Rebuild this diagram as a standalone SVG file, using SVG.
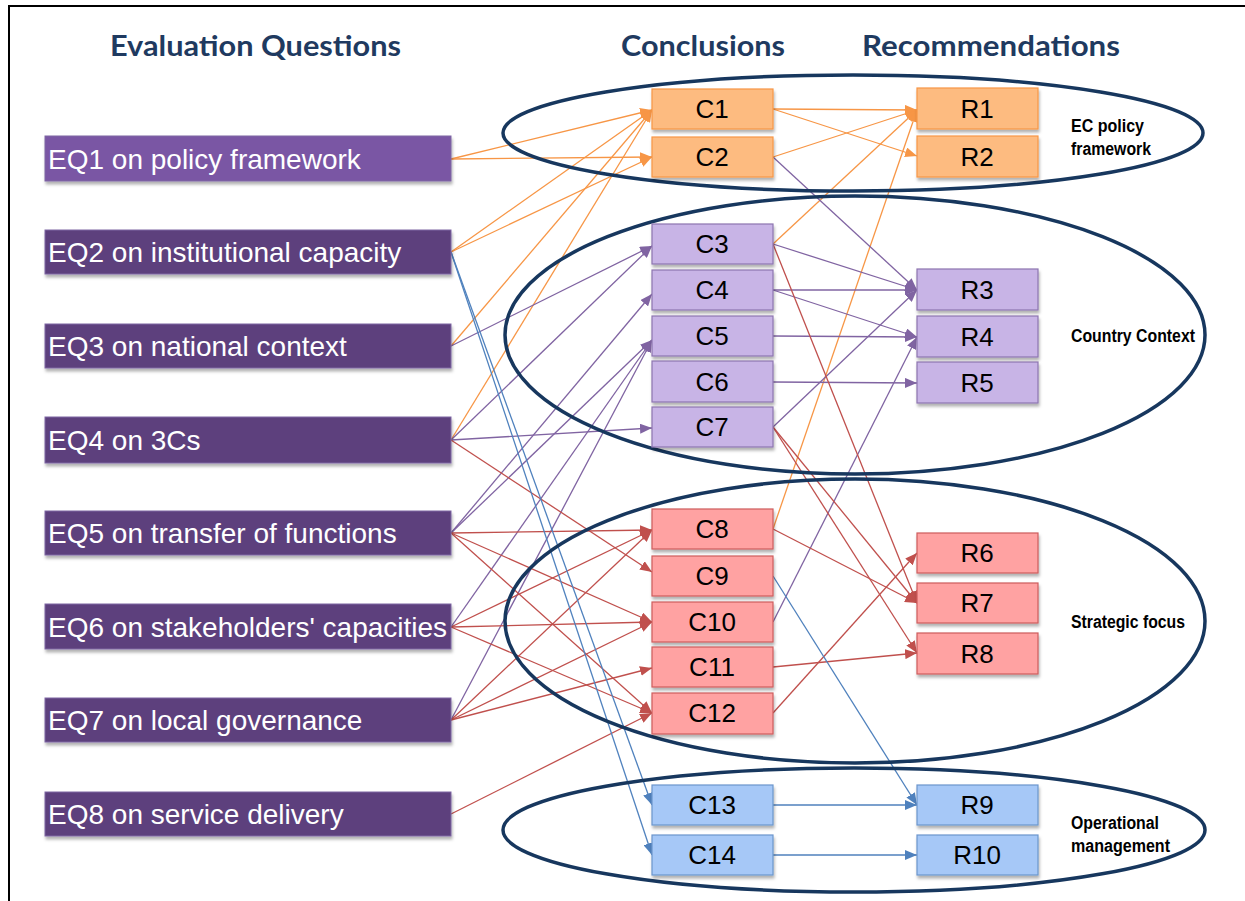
<svg xmlns="http://www.w3.org/2000/svg" width="1245" height="901" viewBox="0 0 1245 901">
<style>
.hdr{font-family:Lato,"Liberation Sans",sans-serif;font-weight:bold;font-size:29px;fill:#1F3A60}
.eq rect{stroke:#7F66A3;stroke-width:1}
.eq text{font-family:"Liberation Sans",Arial,sans-serif;font-size:28px;fill:#fff}
.bx text{font-family:"Liberation Sans",Arial,sans-serif;font-size:26px;fill:#000;text-anchor:middle}
.o rect{fill:#FDBB80;stroke:#F79646;stroke-width:1.2}
.p rect{fill:#C8B4E6;stroke:#8D75B0;stroke-width:1.2}
.r rect{fill:#FFA2A2;stroke:#CD5C5C;stroke-width:1.2}
.b rect{fill:#A6C8F7;stroke:#6C96CC;stroke-width:1.2}
.grp{fill:none;stroke:#17375E;stroke-width:3.5}
.lbl{font-family:"Liberation Sans Narrow","Liberation Sans",Arial,sans-serif;font-weight:bold;font-size:18px;fill:#000}
#connectors line{stroke-width:1.3;fill:none}
.lo{stroke:#F79646;marker-end:url(#ao)}
.lp{stroke:#8064A2;marker-end:url(#ap)}
.lr{stroke:#C0504D;marker-end:url(#ar)}
.lb{stroke:#4F81BD;marker-end:url(#ab)}
</style>
<defs>
<filter id="sh" x="-5%" y="-10%" width="115%" height="140%">
<feDropShadow dx="1" dy="3" stdDeviation="1.5" flood-color="#000" flood-opacity="0.3"/>
</filter>
<marker id="ao" markerUnits="userSpaceOnUse" markerWidth="12" markerHeight="10" refX="12" refY="5" orient="auto"><path d="M0,0 L12,5 L0,10 z" fill="#F79646"/></marker>
<marker id="ap" markerUnits="userSpaceOnUse" markerWidth="12" markerHeight="10" refX="12" refY="5" orient="auto"><path d="M0,0 L12,5 L0,10 z" fill="#8064A2"/></marker>
<marker id="ar" markerUnits="userSpaceOnUse" markerWidth="12" markerHeight="10" refX="12" refY="5" orient="auto"><path d="M0,0 L12,5 L0,10 z" fill="#C0504D"/></marker>
<marker id="ab" markerUnits="userSpaceOnUse" markerWidth="12" markerHeight="10" refX="12" refY="5" orient="auto"><path d="M0,0 L12,5 L0,10 z" fill="#4F81BD"/></marker>
</defs>
<rect x="0" y="0" width="1245" height="901" fill="#fff"/>
<path d="M9,901 V6 H1245" fill="none" stroke="#000" stroke-width="2"/>

<text class="hdr" x="110" y="56" textLength="291" lengthAdjust="spacingAndGlyphs">Evaluation Questions</text>
<text class="hdr" x="621" y="56" textLength="164" lengthAdjust="spacingAndGlyphs">Conclusions</text>
<text class="hdr" x="862" y="56" textLength="258" lengthAdjust="spacingAndGlyphs">Recommendations</text>

<g id="connectors">
<line class="lo" x1="451" y1="159" x2="652" y2="110"/>
<line class="lo" x1="451" y1="159" x2="652" y2="157"/>
<line class="lo" x1="451" y1="252" x2="652" y2="110"/>
<line class="lo" x1="451" y1="252" x2="652" y2="157"/>
<line class="lo" x1="451" y1="346" x2="652" y2="110"/>
<line class="lo" x1="451" y1="440" x2="652" y2="110"/>
<line class="lo" x1="773" y1="109" x2="917" y2="110"/>
<line class="lo" x1="773" y1="109" x2="917" y2="156"/>
<line class="lo" x1="773" y1="157" x2="917" y2="110"/>
<line class="lo" x1="773" y1="244" x2="917" y2="110"/>
<line class="lo" x1="773" y1="529" x2="917" y2="110"/>

<line class="lp" x1="451" y1="346" x2="652" y2="246"/>
<line class="lp" x1="451" y1="440" x2="652" y2="246"/>
<line class="lp" x1="451" y1="440" x2="652" y2="428"/>
<line class="lp" x1="451" y1="533" x2="652" y2="294"/>
<line class="lp" x1="451" y1="533" x2="652" y2="340"/>
<line class="lp" x1="451" y1="627" x2="652" y2="340"/>
<line class="lp" x1="451" y1="720" x2="652" y2="340"/>
<line class="lp" x1="773" y1="157" x2="917" y2="290"/>
<line class="lp" x1="773" y1="244" x2="917" y2="290"/>
<line class="lp" x1="773" y1="290" x2="917" y2="290"/>
<line class="lp" x1="773" y1="290" x2="917" y2="337"/>
<line class="lp" x1="773" y1="336" x2="917" y2="337"/>
<line class="lp" x1="773" y1="382" x2="917" y2="383"/>
<line class="lp" x1="773" y1="427" x2="917" y2="290"/>
<line class="lp" x1="773" y1="622" x2="917" y2="337"/>

<line class="lr" x1="451" y1="440" x2="652" y2="572"/>
<line class="lr" x1="451" y1="533" x2="652" y2="530"/>
<line class="lr" x1="451" y1="533" x2="652" y2="622"/>
<line class="lr" x1="451" y1="533" x2="652" y2="713"/>
<line class="lr" x1="451" y1="627" x2="652" y2="530"/>
<line class="lr" x1="451" y1="627" x2="652" y2="622"/>
<line class="lr" x1="451" y1="627" x2="652" y2="713"/>
<line class="lr" x1="451" y1="720" x2="652" y2="530"/>
<line class="lr" x1="451" y1="720" x2="652" y2="622"/>
<line class="lr" x1="451" y1="720" x2="652" y2="668"/>
<line class="lr" x1="451" y1="814" x2="652" y2="713"/>
<line class="lr" x1="773" y1="244" x2="917" y2="603"/>
<line class="lr" x1="773" y1="427" x2="917" y2="603"/>
<line class="lr" x1="773" y1="427" x2="917" y2="653"/>
<line class="lr" x1="773" y1="529" x2="917" y2="603"/>
<line class="lr" x1="773" y1="667" x2="917" y2="653"/>
<line class="lr" x1="773" y1="713" x2="917" y2="553"/>

<line class="lb" x1="451" y1="252" x2="652" y2="805"/>
<line class="lb" x1="451" y1="252" x2="652" y2="855"/>
<line class="lb" x1="773" y1="576" x2="917" y2="805"/>
<line class="lb" x1="773" y1="805" x2="917" y2="805"/>
<line class="lb" x1="773" y1="855" x2="917" y2="855"/>
</g>

<g id="groups">
<g id="grp-policy"><ellipse class="grp" cx="853" cy="133" rx="350" ry="58"/>
<text class="lbl" x="1071" y="132" textLength="73" lengthAdjust="spacingAndGlyphs">EC policy</text>
<text class="lbl" x="1071" y="155" textLength="80" lengthAdjust="spacingAndGlyphs">framework</text></g>
<g id="grp-country"><ellipse class="grp" cx="855" cy="335" rx="350" ry="139"/>
<text class="lbl" x="1071" y="342" textLength="124" lengthAdjust="spacingAndGlyphs">Country Context</text></g>
<g id="grp-strategic"><ellipse class="grp" cx="855" cy="621" rx="350" ry="142"/>
<text class="lbl" x="1071" y="628" textLength="114" lengthAdjust="spacingAndGlyphs">Strategic focus</text></g>
<g id="grp-operational"><ellipse class="grp" cx="854" cy="830" rx="351" ry="62"/>
<text class="lbl" x="1071" y="829" textLength="88" lengthAdjust="spacingAndGlyphs">Operational</text>
<text class="lbl" x="1071" y="852" textLength="99" lengthAdjust="spacingAndGlyphs">management</text></g>
</g>

<g id="EQ1" class="eq"><rect x="45" y="136" width="406" height="45" fill="#7A56A4" filter="url(#sh)"/><text x="48" y="169">EQ1 on policy framework</text></g>
<g id="EQ2" class="eq"><rect x="45" y="230" width="406" height="44" fill="#5D407D" filter="url(#sh)"/><text x="48" y="262">EQ2 on institutional capacity</text></g>
<g id="EQ3" class="eq"><rect x="45" y="324" width="406" height="44" fill="#5D407D" filter="url(#sh)"/><text x="48" y="356">EQ3 on national context</text></g>
<g id="EQ4" class="eq"><rect x="45" y="417" width="406" height="46" fill="#5D407D" filter="url(#sh)"/><text x="48" y="450">EQ4 on 3Cs</text></g>
<g id="EQ5" class="eq"><rect x="45" y="511" width="406" height="44" fill="#5D407D" filter="url(#sh)"/><text x="48" y="543">EQ5 on transfer of functions</text></g>
<g id="EQ6" class="eq"><rect x="45" y="604" width="406" height="45" fill="#5D407D" filter="url(#sh)"/><text x="48" y="637">EQ6 on stakeholders' capacities</text></g>
<g id="EQ7" class="eq"><rect x="45" y="698" width="406" height="44" fill="#5D407D" filter="url(#sh)"/><text x="48" y="730">EQ7 on local governance</text></g>
<g id="EQ8" class="eq"><rect x="45" y="792" width="406" height="44" fill="#5D407D" filter="url(#sh)"/><text x="48" y="824">EQ8 on service delivery</text></g>

<g id="C1" class="bx o"><rect x="652" y="89" width="121" height="40" filter="url(#sh)"/><text x="712" y="118">C1</text></g>
<g id="C2" class="bx o"><rect x="652" y="137" width="121" height="40" filter="url(#sh)"/><text x="712" y="166">C2</text></g>
<g id="C3" class="bx p"><rect x="652" y="224" width="121" height="40" filter="url(#sh)"/><text x="712" y="253">C3</text></g>
<g id="C4" class="bx p"><rect x="652" y="270" width="121" height="40" filter="url(#sh)"/><text x="712" y="299">C4</text></g>
<g id="C5" class="bx p"><rect x="652" y="316" width="121" height="40" filter="url(#sh)"/><text x="712" y="345">C5</text></g>
<g id="C6" class="bx p"><rect x="652" y="361" width="121" height="41" filter="url(#sh)"/><text x="712" y="391">C6</text></g>
<g id="C7" class="bx p"><rect x="652" y="407" width="121" height="40" filter="url(#sh)"/><text x="712" y="436">C7</text></g>
<g id="C8" class="bx r"><rect x="652" y="509" width="121" height="40" filter="url(#sh)"/><text x="712" y="538">C8</text></g>
<g id="C9" class="bx r"><rect x="652" y="556" width="121" height="40" filter="url(#sh)"/><text x="712" y="585">C9</text></g>
<g id="C10" class="bx r"><rect x="652" y="602" width="121" height="40" filter="url(#sh)"/><text x="712" y="631">C10</text></g>
<g id="C11" class="bx r"><rect x="652" y="647" width="121" height="40" filter="url(#sh)"/><text x="712" y="676">C11</text></g>
<g id="C12" class="bx r"><rect x="652" y="693" width="121" height="41" filter="url(#sh)"/><text x="712" y="722">C12</text></g>
<g id="C13" class="bx b"><rect x="652" y="785" width="121" height="40" filter="url(#sh)"/><text x="712" y="814">C13</text></g>
<g id="C14" class="bx b"><rect x="652" y="835" width="121" height="40" filter="url(#sh)"/><text x="712" y="864">C14</text></g>

<g id="R1" class="bx o"><rect x="917" y="88" width="121" height="41" filter="url(#sh)"/><text x="977" y="118">R1</text></g>
<g id="R2" class="bx o"><rect x="917" y="136" width="121" height="41" filter="url(#sh)"/><text x="977" y="166">R2</text></g>
<g id="R3" class="bx p"><rect x="917" y="269" width="121" height="41" filter="url(#sh)"/><text x="977" y="299">R3</text></g>
<g id="R4" class="bx p"><rect x="917" y="316" width="121" height="41" filter="url(#sh)"/><text x="977" y="346">R4</text></g>
<g id="R5" class="bx p"><rect x="917" y="362" width="121" height="41" filter="url(#sh)"/><text x="977" y="392">R5</text></g>
<g id="R6" class="bx r"><rect x="917" y="533" width="121" height="40" filter="url(#sh)"/><text x="977" y="562">R6</text></g>
<g id="R7" class="bx r"><rect x="917" y="583" width="121" height="40" filter="url(#sh)"/><text x="977" y="612">R7</text></g>
<g id="R8" class="bx r"><rect x="917" y="633" width="121" height="41" filter="url(#sh)"/><text x="977" y="663">R8</text></g>
<g id="R9" class="bx b"><rect x="917" y="785" width="121" height="40" filter="url(#sh)"/><text x="977" y="814">R9</text></g>
<g id="R10" class="bx b"><rect x="917" y="835" width="121" height="40" filter="url(#sh)"/><text x="977" y="864">R10</text></g>
</svg>
